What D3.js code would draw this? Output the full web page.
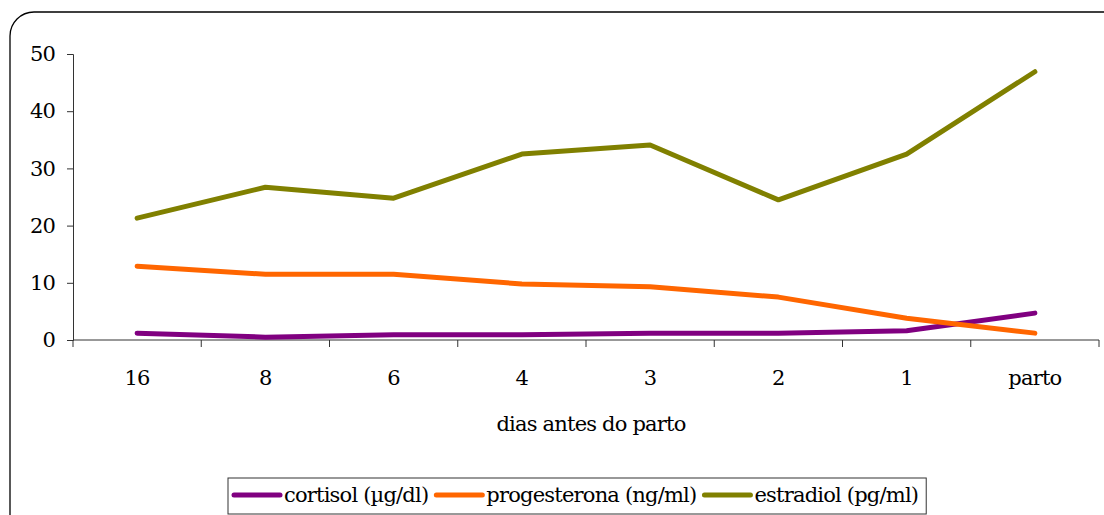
<!DOCTYPE html>
<html>
<head>
<meta charset="utf-8">
<script src="https://cdn.jsdelivr.net/npm/d3@7"></script>
<style>
  body { margin: 0; background: #fff; }
  svg text { font-family: "DejaVu Serif", serif; fill: #000; font-size: 21px; letter-spacing: -0.8px; }
</style>
</head>
<body>
<div id="chart"></div>
<script>
// data
const days = ["16", "8", "6", "4", "3", "2", "1", "parto"];
const cortisol = [1.2, 0.5, 0.9, 0.9, 1.2, 1.2, 1.6, 4.7];
const progesterona = [12.9, 11.5, 11.5, 9.8, 9.3, 7.5, 3.8, 1.2];
const estradiol = [21.3, 26.7, 24.8, 32.5, 34.1, 24.5, 32.5, 46.9];
const yTicks = [0, 10, 20, 30, 40, 50];

const series = [
  { name: "cortisol (µg/dl)", values: cortisol, color: "#800080" },
  { name: "progesterona (ng/ml)", values: progesterona, color: "#ff6600" },
  { name: "estradiol (pg/ml)", values: estradiol, color: "#808000" }
];

const W = 1104, H = 515;
const margin = { top: 54, right: 5, bottom: 175, left: 73 };
const innerW = W - margin.left - margin.right;
const innerH = H - margin.top - margin.bottom;

const svg = d3.select("#chart").append("svg")
  .attr("width", W).attr("height", H);

// outer rounded frame (clipped on right/bottom)
svg.append("rect")
  .attr("x", 10).attr("y", 12)
  .attr("width", 1120).attr("height", 540)
  .attr("rx", 24).attr("ry", 24)
  .attr("fill", "none").attr("stroke", "#000").attr("stroke-width", 1.3);

const g = svg.append("g").attr("transform", `translate(${margin.left},${margin.top})`);

const x = d3.scaleBand().domain(days).range([0, innerW]);
const y = d3.scaleLinear().domain([0, 50]).range([innerH, 0]);

// y axis
const yAxis = g.append("g")
  .call(d3.axisLeft(y).tickValues(yTicks).tickSize(6).tickPadding(12).tickFormat(d3.format("d")));
yAxis.select(".domain").attr("stroke", "#333");
yAxis.selectAll(".tick line").attr("stroke", "#333");

// x axis: ticks at band boundaries
const xAxis = g.append("g").attr("transform", `translate(0,${innerH})`);
xAxis.append("line")
  .attr("x1", 0).attr("x2", innerW)
  .attr("stroke", "#333");
xAxis.selectAll(".bt")
  .data(d3.range(days.length + 1))
  .join("line")
  .attr("class", "bt")
  .attr("x1", i => i * x.step()).attr("x2", i => i * x.step())
  .attr("y1", 0).attr("y2", 7)
  .attr("stroke", "#333");
xAxis.selectAll(".lbl")
  .data(days)
  .join("text")
  .attr("class", "lbl")
  .attr("x", d => x(d) + x.bandwidth() / 2)
  .attr("y", 45)
  .attr("text-anchor", "middle")
  .text(d => d);

g.append("text")
  .attr("x", innerW / 2 + 5)
  .attr("y", innerH + 91)
  .attr("text-anchor", "middle")
  .text("dias antes do parto");

// lines
const line = d3.line()
  .x((d, i) => x(days[i]) + x.bandwidth() / 2)
  .y(d => y(d));

g.selectAll(".series")
  .data(series)
  .join("path")
  .attr("class", "series")
  .attr("fill", "none")
  .attr("stroke", d => d.color)
  .attr("stroke-width", 5)
  .attr("stroke-linecap", "round")
  .attr("stroke-linejoin", "round")
  .attr("d", d => line(d.values));

// legend
const legend = svg.append("g").attr("transform", "translate(228,478)");
const box = legend.append("rect")
  .attr("x", 0).attr("y", 0).attr("height", 36)
  .attr("fill", "#fff").attr("stroke", "#333").attr("stroke-width", 1);

let lx = 6;
series.forEach(s => {
  const item = legend.append("g").attr("transform", `translate(${lx},0)`);
  item.append("line")
    .attr("x1", 0).attr("x2", 46).attr("y1", 17).attr("y2", 17)
    .attr("stroke", s.color).attr("stroke-width", 5).attr("stroke-linecap", "round");
  const t = item.append("text")
    .attr("x", 50).attr("y", 24)
    .text(s.name);
  lx += 50 + t.node().getComputedTextLength() + 8;
});
box.attr("width", lx);
</script>
</body>
</html>
